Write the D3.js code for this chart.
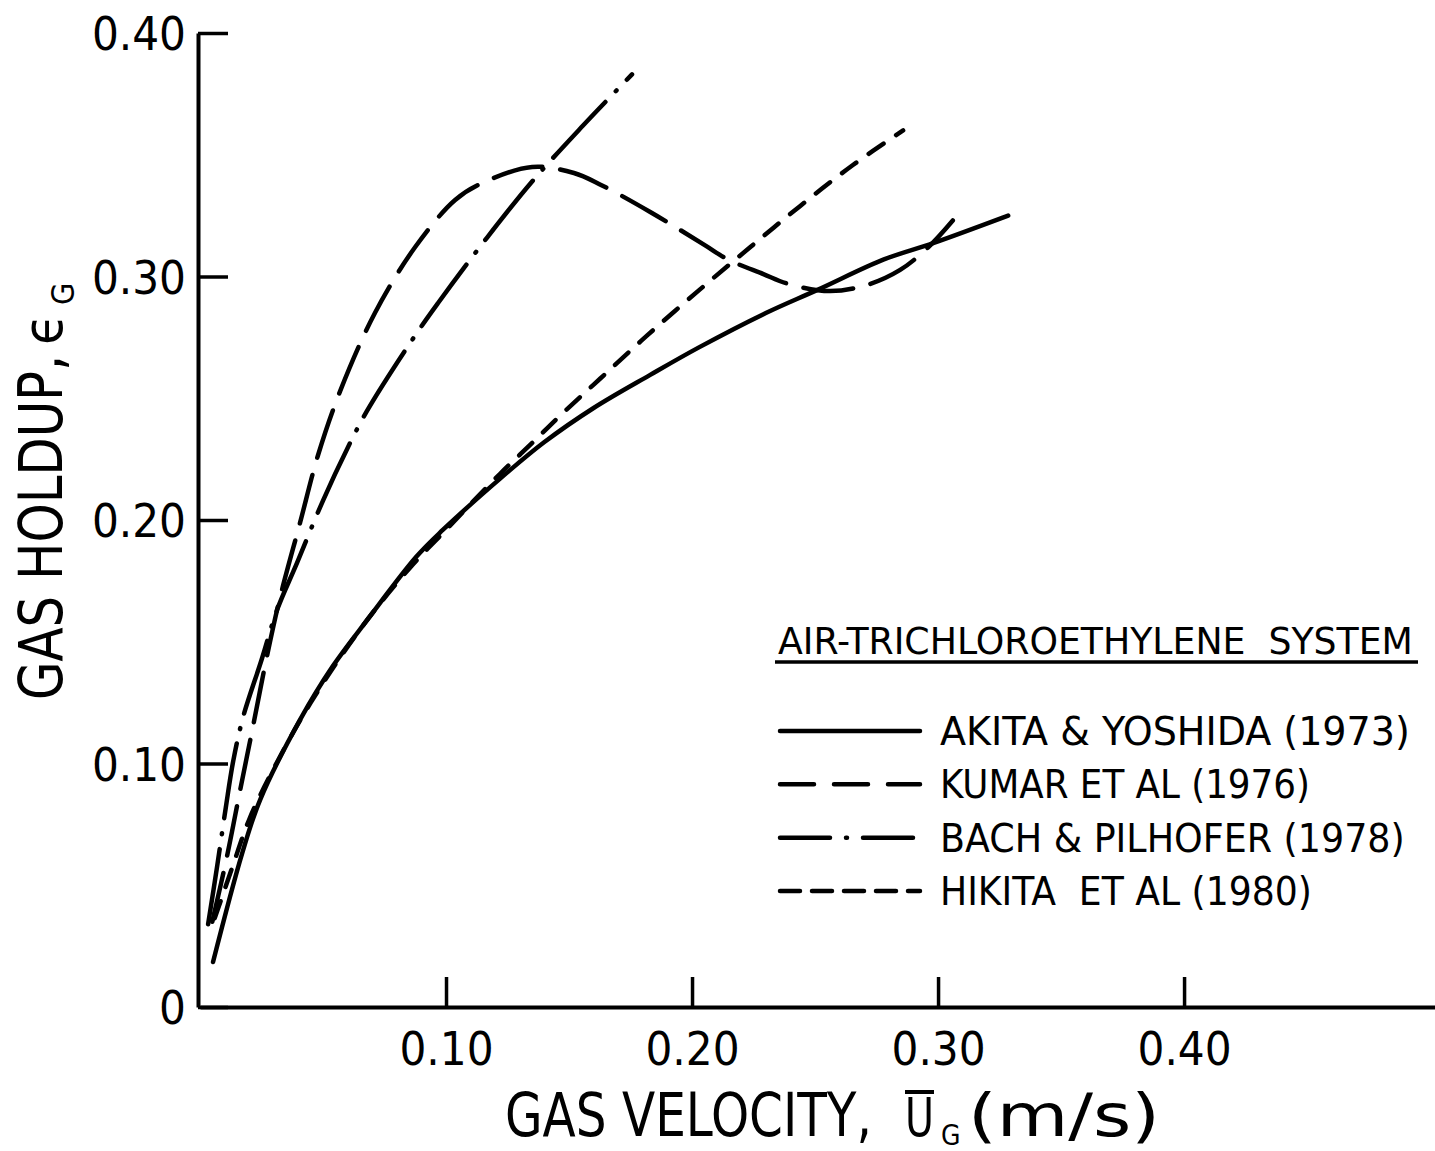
<!DOCTYPE html>
<html lang="en">
<head>
<meta charset="UTF-8">
<title>Gas holdup</title>
<script src="https://cdnjs.cloudflare.com/ajax/libs/d3/7.8.5/d3.min.js"></script>
<style>
	body { margin: 0; background: #fff; }
	svg { display: block; }
	text { font-family: "DejaVu Sans Condensed", "Liberation Sans Narrow", "DejaVu Sans", sans-serif; fill: #000; }
</style>
</head>
<body>
<svg id="chart" width="1435" height="1151"></svg>
<script>
// tick values
var xTicks = [0.1, 0.2, 0.3, 0.4];
var yTicks = [0, 0.1, 0.2, 0.3, 0.4];

// curves: gas velocity (m/s) and gas holdup
var akitaU = [0.0053, 0.0171, 0.0244, 0.0407, 0.054, 0.068, 0.088, 0.0988, 0.122, 0.14, 0.16, 0.183, 0.203, 0.230, 0.251, 0.278, 0.298, 0.3285];
var akitaE = [0.0185, 0.063, 0.085, 0.118, 0.140, 0.159, 0.185, 0.196, 0.217, 0.232, 0.246, 0.2596, 0.271, 0.285, 0.2945, 0.307, 0.3137, 0.325];

var kumarU = [0.005, 0.011, 0.0165, 0.0215, 0.027, 0.0325, 0.0407, 0.048, 0.057, 0.0711, 0.0874, 0.1037, 0.115, 0.135, 0.152, 0.163, 0.183, 0.205, 0.2146, 0.229, 0.239, 0.256, 0.271, 0.2846, 0.296, 0.306];
var kumarE = [0.035, 0.062, 0.090, 0.115, 0.143, 0.168, 0.199, 0.2267, 0.253, 0.285, 0.312, 0.3314, 0.3385, 0.345, 0.3425, 0.3376, 0.3265, 0.313, 0.307, 0.301, 0.297, 0.294, 0.2965, 0.3027, 0.312, 0.323];

var bachU = [0.0033, 0.007, 0.0105, 0.0135, 0.0175, 0.025, 0.0313, 0.0394, 0.050, 0.060, 0.068, 0.0866, 0.0967, 0.1167, 0.135, 0.1557, 0.1756];
var bachE = [0.034, 0.058, 0.082, 0.101, 0.119, 0.1425, 0.163, 0.1823, 0.208, 0.2296, 0.245, 0.2745, 0.289, 0.316, 0.339, 0.362, 0.383];

var hikitaU = [0.006, 0.013, 0.02, 0.03, 0.045, 0.065, 0.085, 0.10, 0.122, 0.1354, 0.146, 0.1626, 0.182, 0.203, 0.2236, 0.244, 0.2654, 0.2858];
var hikitaE = [0.0365, 0.057, 0.077, 0.098, 0.125, 0.155, 0.180, 0.196, 0.219, 0.232, 0.2425, 0.258, 0.276, 0.2945, 0.312, 0.329, 0.3458, 0.360];

var legendTitle = "AIR-TRICHLOROETHYLENE  SYSTEM";
var legendNames = ["AKITA & YOSHIDA (1973)", "KUMAR ET AL (1976)", "BACH & PILHOFER (1978)", "HIKITA  ET AL (1980)"];

// squeeze a text horizontally so it spans the given width
function fitText(g, str, x0, y0, size, width) {
	var t = g.append("text").attr("font-size", size).attr("xml:space", "preserve").text(str);
	var w = t.node().getComputedTextLength();
	t.attr("transform", "translate(" + x0 + "," + y0 + ") scale(" + (width / w) + ",1)");
	return t;
}

function draw() {
	var svg = d3.select("#chart");

	var x = d3.scaleLinear().domain([0, 0.502]).range([200, 1435]);
	var y = d3.scaleLinear().domain([0, 0.4]).range([1007, 33]);

	// axes, ticks pointing inward
	var yAxis = d3.axisLeft(y).tickValues(yTicks).tickSizeInner(-30).tickSizeOuter(0).tickPadding(12)
		.tickFormat(function(d) { return d === 0 ? "0" : d3.format(".2f")(d); });
	var xAxis = d3.axisBottom(x).tickValues(xTicks).tickSizeInner(-30).tickSizeOuter(0).tickPadding(24)
		.tickFormat(d3.format(".2f"));

	var gy = svg.append("g").attr("transform", "translate(198,0)").call(yAxis);
	var gx = svg.append("g").attr("transform", "translate(0,1007)").call(xAxis);

	[gx, gy].forEach(function(g) {
		g.select(".domain").attr("stroke", "#000").attr("stroke-width", 4);
		g.selectAll(".tick line").attr("stroke", "#000").attr("stroke-width", 3.5);
		g.selectAll(".tick text").attr("font-size", 47).attr("fill", "#000")
			.attr("font-family", "\"DejaVu Sans Condensed\", \"Liberation Sans Narrow\", sans-serif");
	});
	gy.selectAll(".tick text").attr("dy", "0.36em");
	gx.selectAll(".tick text").attr("dy", "0.72em");

	// curves
	var line = d3.line()
		.x(function(d) { return x(d[0]); })
		.y(function(d) { return y(d[1]); })
		.curve(d3.curveCatmullRom.alpha(0.5));

	var series = [
		{u: akitaU, e: akitaE, dash: null, legendDash: null},
		{u: kumarU, e: kumarE, dash: "50 18", legendDash: "34 20"},
		{u: bachU, e: bachE, dash: "76 15 1 15", legendDash: "50 16 1 16"},
		{u: hikitaU, e: hikitaE, dash: "18 15", legendDash: "20 12"}
	];

	series.forEach(function(s) {
		var pts = d3.zip(s.u, s.e);
		svg.append("path")
			.attr("d", line(pts))
			.attr("fill", "none")
			.attr("stroke", "#000")
			.attr("stroke-width", 4.5)
			.attr("stroke-linecap", "round")
			.attr("stroke-dasharray", s.dash);
	});

	// legend
	var lg = svg.append("g");
	fitText(lg, legendTitle, 778, 654, 37, 635);
	lg.append("line")
		.attr("x1", 775).attr("x2", 1418).attr("y1", 662).attr("y2", 662)
		.attr("stroke", "#000").attr("stroke-width", 3.5);

	var nameWidths = [470, 370, 465, 372];
	var rowY = d3.scalePoint().domain(d3.range(legendNames.length)).range([731, 891]);
	legendNames.forEach(function(name, i) {
		var yy = rowY(i);
		lg.append("line")
			.attr("x1", 780).attr("x2", 920).attr("y1", yy).attr("y2", yy)
			.attr("stroke", "#000").attr("stroke-width", 4.5)
			.attr("stroke-linecap", "round")
			.attr("stroke-dasharray", series[i].legendDash);
		fitText(lg, name, 940, yy + 14, 39, nameWidths[i]);
	});

	// x axis title
	var xt = svg.append("g");
	fitText(xt, "GAS VELOCITY,", 505, 1136, 60, 367);
	fitText(xt, "U", 905, 1136, 54, 29);
	xt.append("line").attr("x1", 905).attr("x2", 934).attr("y1", 1092).attr("y2", 1092)
		.attr("stroke", "#000").attr("stroke-width", 4);
	xt.append("text").attr("x", 941).attr("y", 1145).attr("font-size", 28)
		.text("G");
	fitText(xt, "(m/s)", 968, 1136, 58, 192);

	// y axis title
	var yt = svg.append("g").attr("transform", "translate(62,700) rotate(-90)");
	fitText(yt, "GAS HOLDUP,", 0, 0, 60, 345);
	yt.append("text").attr("x", 355).attr("y", 0).attr("font-size", 56)
		.text("\u03f5");
	yt.append("text").attr("x", 395).attr("y", 12).attr("font-size", 32)
		.text("G");
}
draw();
</script>
</body>
</html>
